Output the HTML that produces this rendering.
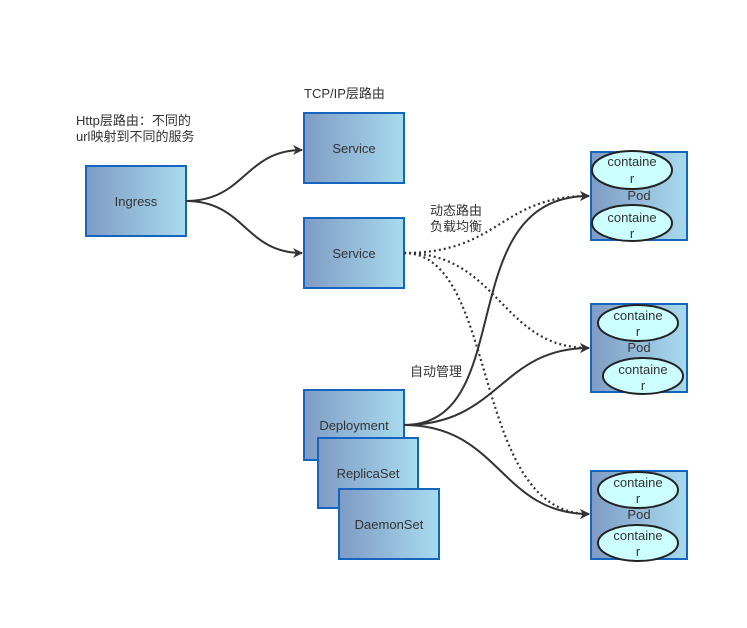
<!DOCTYPE html>
<html><head><meta charset="utf-8"><style>
html,body{margin:0;padding:0;background:#fff;}
svg text{font-family:"Liberation Sans","Noto Sans CJK SC",sans-serif;fill:#333;}
</style></head><body>
<svg width="747" height="623" viewBox="0 0 747 623" xmlns="http://www.w3.org/2000/svg">
<defs>
<linearGradient id="g" x1="0" y1="0" x2="1" y2="0">
<stop offset="0" stop-color="#7f9bc4"/><stop offset="1" stop-color="#a8dbee"/>
</linearGradient>
<marker id="a" markerWidth="10" markerHeight="10" refX="9" refY="5" orient="auto" markerUnits="userSpaceOnUse">
<path d="M0,0 L10,5 L0,10 L3,5 Z" fill="#333"/>
</marker>
</defs>
<g stroke="#1565c0" stroke-width="2" fill="url(#g)">
<rect x="86" y="166" width="100" height="70"/>
<rect x="304" y="113" width="100" height="70"/>
<rect x="304" y="218" width="100" height="70"/>
<rect x="304" y="390" width="100" height="70"/>
<rect x="318" y="438" width="100" height="70"/>
<rect x="339" y="489" width="100" height="70"/>
<rect x="591" y="152" width="96" height="88"/>
<rect x="591" y="304" width="96" height="88"/>
<rect x="591" y="471" width="96" height="88"/>
</g>
<g font-size="13" text-anchor="middle">
<text x="136" y="206">Ingress</text>
<text x="354" y="153">Service</text>
<text x="354" y="258">Service</text>
<text x="354" y="430">Deployment</text>
<text x="368" y="478">ReplicaSet</text>
<text x="389" y="529">DaemonSet</text>
<text x="639" y="200">Pod</text>
<text x="639" y="352">Pod</text>
<text x="639" y="519">Pod</text>
</g>
<g stroke="#222" stroke-width="2" fill="#ccffff">
<ellipse cx="632" cy="170" rx="40" ry="19"/>
<ellipse cx="632" cy="223" rx="40" ry="18"/>
<ellipse cx="638" cy="323" rx="40" ry="18"/>
<ellipse cx="643" cy="376" rx="40" ry="18"/>
<ellipse cx="638" cy="490" rx="40" ry="18"/>
<ellipse cx="638" cy="543" rx="40" ry="18"/>
</g>
<g font-size="13" text-anchor="middle">
<text x="632" y="166">containe</text><text x="632" y="183">r</text>
<text x="632" y="222">containe</text><text x="632" y="238">r</text>
<text x="638" y="320">containe</text><text x="638" y="336">r</text>
<text x="643" y="374">containe</text><text x="643" y="390">r</text>
<text x="638" y="487">containe</text><text x="638" y="503">r</text>
<text x="638" y="540">containe</text><text x="638" y="556">r</text>
</g>
<g stroke="#333" stroke-width="2" fill="none">
<path d="M186,201 C245,201 245,150 302,150" marker-end="url(#a)"/>
<path d="M186,201 C245,201 245,253 302,253" marker-end="url(#a)"/>
<path d="M404,425 C520,425 450,196 589,196" marker-end="url(#a)"/>
<path d="M404,425 C500,425 500,348 589,348" marker-end="url(#a)"/>
<path d="M404,425 C500,425 500,514 589,514" marker-end="url(#a)"/>
</g>
<g stroke="#333" stroke-width="2.2" fill="none" stroke-dasharray="2,3">
<path d="M404,253 C500,253 500,196 589,196" marker-end="url(#a)"/>
<path d="M404,253 C500,253 500,348 589,348" marker-end="url(#a)"/>
<path d="M404,253 C500,253 470,514 589,514" marker-end="url(#a)"/>
</g>
<g font-size="13">
<text x="76" y="125">Http层路由：不同的</text>
<text x="76" y="141">url映射到不同的服务</text>
<text x="304" y="98">TCP/IP层路由</text>
<text x="430" y="215">动态路由</text>
<text x="430" y="231">负载均衡</text>
<text x="410" y="376">自动管理</text>
</g>
</svg>
</body></html>
